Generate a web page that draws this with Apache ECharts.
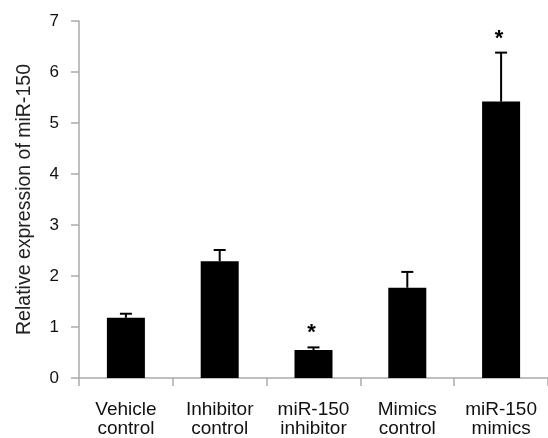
<!DOCTYPE html>
<html>
<head>
<meta charset="utf-8">
<script src="https://cdn.jsdelivr.net/npm/echarts@6/dist/echarts.min.js"></script>
<style>html,body{margin:0;padding:0;background:#fff}#c{width:548px;height:438px}</style>
</head>
<body>
<div id="c"></div>
<script>
var categories = ['Vehicle\ncontrol', 'Inhibitor\ncontrol', 'miR-150\ninhibitor', 'Mimics\ncontrol', 'miR-150\nmimics'];
var means = [1.18, 2.29, 0.55, 1.77, 5.42];
var errors = [0.08, 0.22, 0.05, 0.31, 0.96];
var marks = ['', '', '*', '', '*'];
var yTicks = [0, 1, 2, 3, 4, 5, 6, 7];

var chart = echarts.init(document.getElementById('c'));
var errData = means.map(function (m, i) { return [i, m, m + errors[i], marks[i]]; });
var FONT = 'Liberation Sans, Arial, Helvetica';

chart.setOption({
  animation: false,
  grid: { left: 79, right: -6, top: 21, bottom: 58 },
  xAxis: {
    type: 'category',
    data: categories,
    axisLine: { lineStyle: { color: '#aaaaaa', width: 1.5 } },
    axisTick: { show: true, length: 8, lineStyle: { color: '#aaaaaa', width: 1.5 } },
    axisLabel: { color: '#111', fontSize: 19, fontFamily: FONT, margin: 22, lineHeight: 19, interval: 0 }
  },
  yAxis: {
    type: 'value',
    min: 0, max: 7, interval: 1,
    name: 'Relative expression of miR-150',
    nameLocation: 'middle',
    nameGap: 44,
    nameTextStyle: { color: '#222', fontSize: 19.5, fontFamily: FONT },
    axisLine: { show: true, lineStyle: { color: '#aaaaaa', width: 1.5 } },
    axisTick: { show: true, length: 8, lineStyle: { color: '#aaaaaa', width: 1.5 } },
    splitLine: { show: false },
    axisLabel: {
      color: '#111', fontSize: 17, fontFamily: FONT, margin: 20,
      formatter: function (v) { return yTicks.indexOf(v) >= 0 ? String(v) : ''; }
    }
  },
  series: [
    {
      type: 'bar',
      data: means,
      barWidth: 38,
      itemStyle: { color: '#000' }
    },
    {
      type: 'custom',
      data: errData,
      z: 5,
      renderItem: function (params, api) {
        var x = api.value(0);
        var lo = api.coord([x, api.value(1)]);
        var hi = api.coord([x, api.value(2)]);
        var cap = 6;
        var children = [
          { type: 'line', shape: { x1: lo[0], y1: lo[1], x2: hi[0], y2: hi[1] }, style: { stroke: '#000', lineWidth: 2 } },
          { type: 'line', shape: { x1: hi[0] - cap, y1: hi[1], x2: hi[0] + cap, y2: hi[1] }, style: { stroke: '#000', lineWidth: 2 } }
        ];
        var m = api.value(3);
        if (m) {
          children.push({ type: 'text', x: hi[0] - 2, y: hi[1] - 14, style: { text: m, fontSize: 22, fontWeight: 'bold', fill: '#000', align: 'center', verticalAlign: 'middle', fontFamily: FONT } });
        }
        return { type: 'group', children: children };
      }
    }
  ]
});
</script>
</body>
</html>
